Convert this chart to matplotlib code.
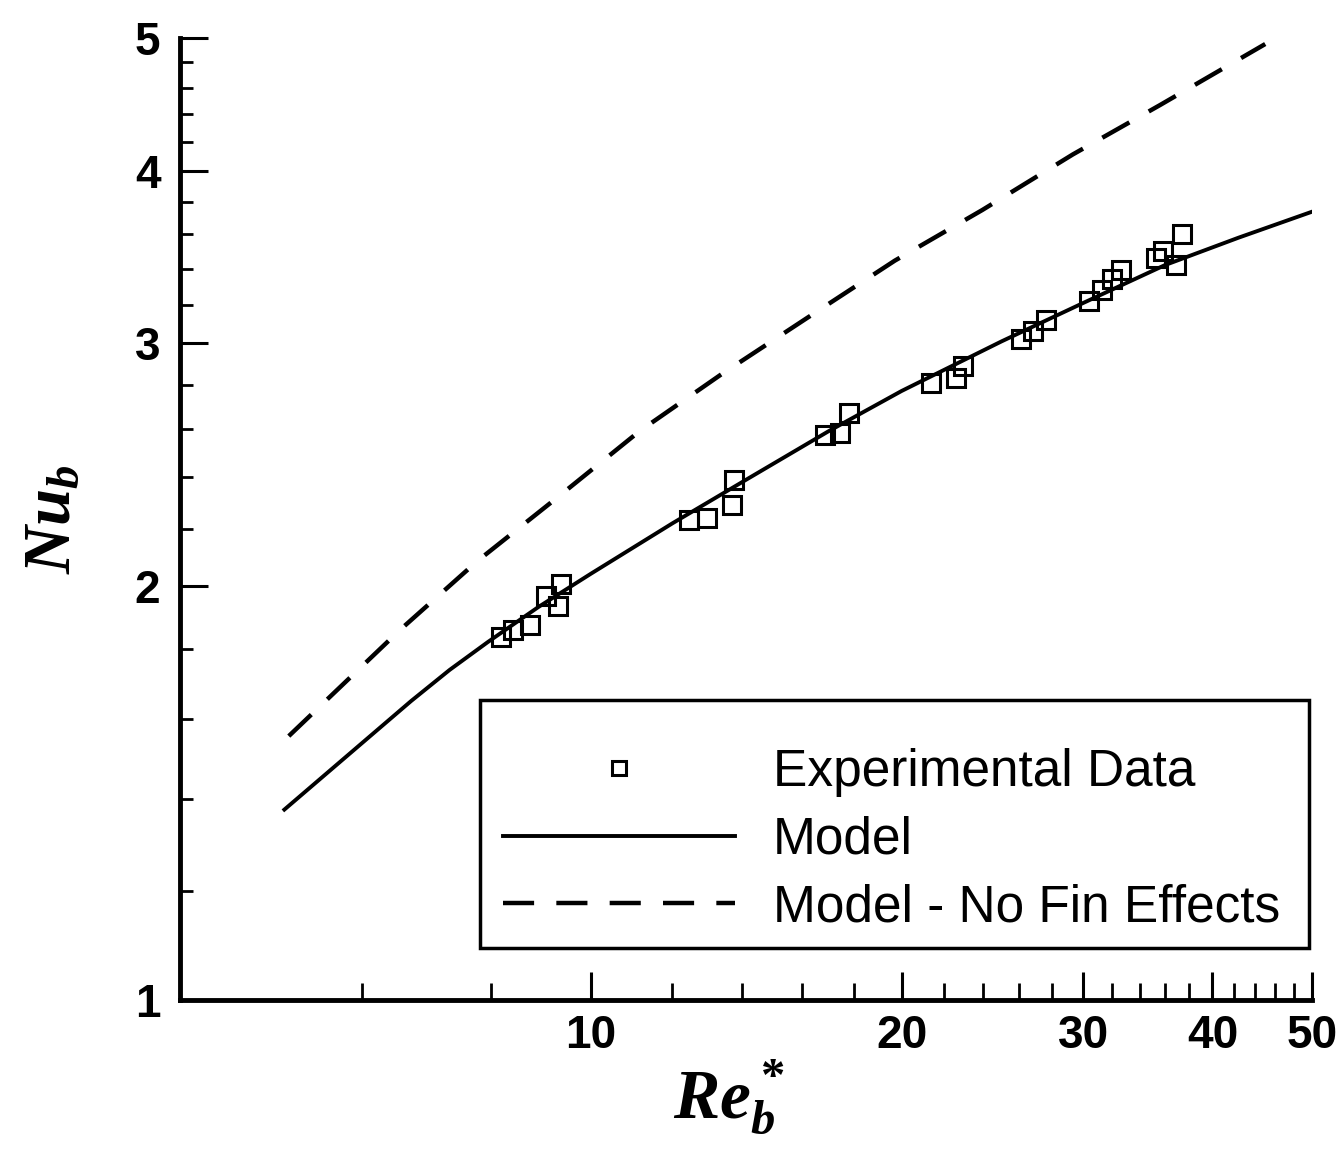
import matplotlib
matplotlib.use("Agg")
import matplotlib.pyplot as plt
from matplotlib.patches import Rectangle
from matplotlib.ticker import FixedLocator, NullFormatter, FixedFormatter

plt.rcParams['font.family'] = ['Liberation Sans', 'DejaVu Sans']
plt.rcParams['mathtext.fontset'] = 'custom'
plt.rcParams['mathtext.it'] = 'Liberation Serif:italic:bold'
plt.rcParams['mathtext.rm'] = 'Liberation Serif:bold'
plt.rcParams['mathtext.bf'] = 'Liberation Serif:bold'

# Experimental data (Re_b*, Nu_b)
exp_re = [8.19, 8.41, 8.73, 9.05, 9.29, 9.36,
          12.46, 12.97, 13.71, 13.77,
          16.86, 17.43, 17.78,
          21.38, 22.6, 22.96,
          26.1, 26.8, 27.6,
          30.4, 31.3, 32.0, 32.6,
          35.3, 35.8, 36.9, 37.4]
exp_nu = [1.836, 1.858, 1.873, 1.967, 1.934, 2.007,
          2.231, 2.238, 2.288, 2.386,
          2.572, 2.58, 2.67,
          2.807, 2.83, 2.888,
          3.02, 3.06, 3.12,
          3.22, 3.28, 3.34, 3.39,
          3.46, 3.50, 3.42, 3.60]

# Model curve
model_re = [5.05, 5.8, 6.7, 7.3, 7.95, 8.9, 10.0, 12.0, 14.17, 17.0, 20.0, 25.0, 30.0, 36.0, 42.4, 50.0]
model_nu = [1.375, 1.503, 1.649, 1.737, 1.82, 1.93, 2.04, 2.22, 2.39, 2.59, 2.77, 3.01, 3.21, 3.42, 3.58, 3.74]

# Model - no fin effects
nofin_re = [5.10, 6.54, 7.76, 9.29, 11.15, 13.35, 16.2, 19.7, 23.95, 29.3, 35.6, 45.0]
nofin_nu = [1.555, 1.858, 2.083, 2.319, 2.59, 2.845, 3.13, 3.445, 3.75, 4.115, 4.47, 4.95]

x_major = [10, 20, 30, 40, 50]
x_minor = [6, 8, 12, 14, 16, 18, 22, 24, 26, 28, 32, 34, 36, 38, 42, 44, 46, 48]
y_major = [1, 2, 3, 4, 5]
y_minor = [1.2, 1.4, 1.6, 1.8, 2.2, 2.4, 2.6, 2.8, 3.2, 3.4, 3.6, 3.8, 4.2, 4.4, 4.6, 4.8]

fig = plt.figure(figsize=(13.42, 11.52), dpi=100)
ax = fig.add_axes([0.134, 0.132, 0.844, 0.835])

ax.plot(nofin_re, nofin_nu, color='black', lw=3.2, linestyle=(0, (7, 5)),
        label='Model - No Fin Effects', zorder=2)
ax.plot(model_re, model_nu, color='black', lw=2.8, label='Model', zorder=2)
ax.plot(exp_re, exp_nu, linestyle='none', marker='s', markersize=13,
        markerfacecolor='none', markeredgecolor='black', markeredgewidth=2.2,
        label='Experimental Data', zorder=3)

ax.set_xscale('log')
ax.set_yscale('log')
ax.set_xlim(4, 50)
ax.set_ylim(1, 5)

ax.xaxis.set_major_locator(FixedLocator(x_major))
ax.xaxis.set_major_formatter(FixedFormatter([str(v) for v in x_major]))
ax.xaxis.set_minor_locator(FixedLocator(x_minor))
ax.xaxis.set_minor_formatter(NullFormatter())
ax.yaxis.set_major_locator(FixedLocator(y_major))
ax.yaxis.set_major_formatter(FixedFormatter([str(v) for v in y_major]))
ax.yaxis.set_minor_locator(FixedLocator(y_minor))
ax.yaxis.set_minor_formatter(NullFormatter())

for s in ['top', 'right']:
    ax.spines[s].set_visible(False)
for s in ['left', 'bottom']:
    ax.spines[s].set_linewidth(3.5)

ax.tick_params(axis='both', which='major', direction='in', length=20, width=2.2,
               labelsize=33, pad=10)
ax.tick_params(axis='x', which='minor', direction='in', length=12, width=2.0)
ax.tick_params(axis='y', which='minor', direction='in', length=9, width=2.0)
ax.tick_params(axis='y', which='major', pad=14)
for lab in ax.get_xticklabels() + ax.get_yticklabels():
    lab.set_fontweight('bold')

ax.set_xlabel(r'$Re_b^*$', fontsize=50)
ax.set_ylabel(r'$Nu_b$', fontsize=48)
ax.xaxis.set_label_coords(0.485, -0.06)
ax.yaxis.set_label_coords(-0.085, 0.5)

# legend frame
ax.add_patch(Rectangle((0.265, 0.054), 0.732, 0.258, transform=ax.transAxes,
                       fill=False, edgecolor='black', lw=2.5, zorder=4))
handles, labels = ax.get_legend_handles_labels()
order = [2, 1, 0]
leg = ax.legend([handles[i] for i in order], [labels[i] for i in order],
                loc='center left', bbox_to_anchor=(0.263, 0.166), frameon=False,
                fontsize=37, handlelength=4.5, handletextpad=0.75, borderpad=0,
                labelspacing=0.36, numpoints=1, markerscale=0.8)

fig.savefig('out.png', dpi=100)
